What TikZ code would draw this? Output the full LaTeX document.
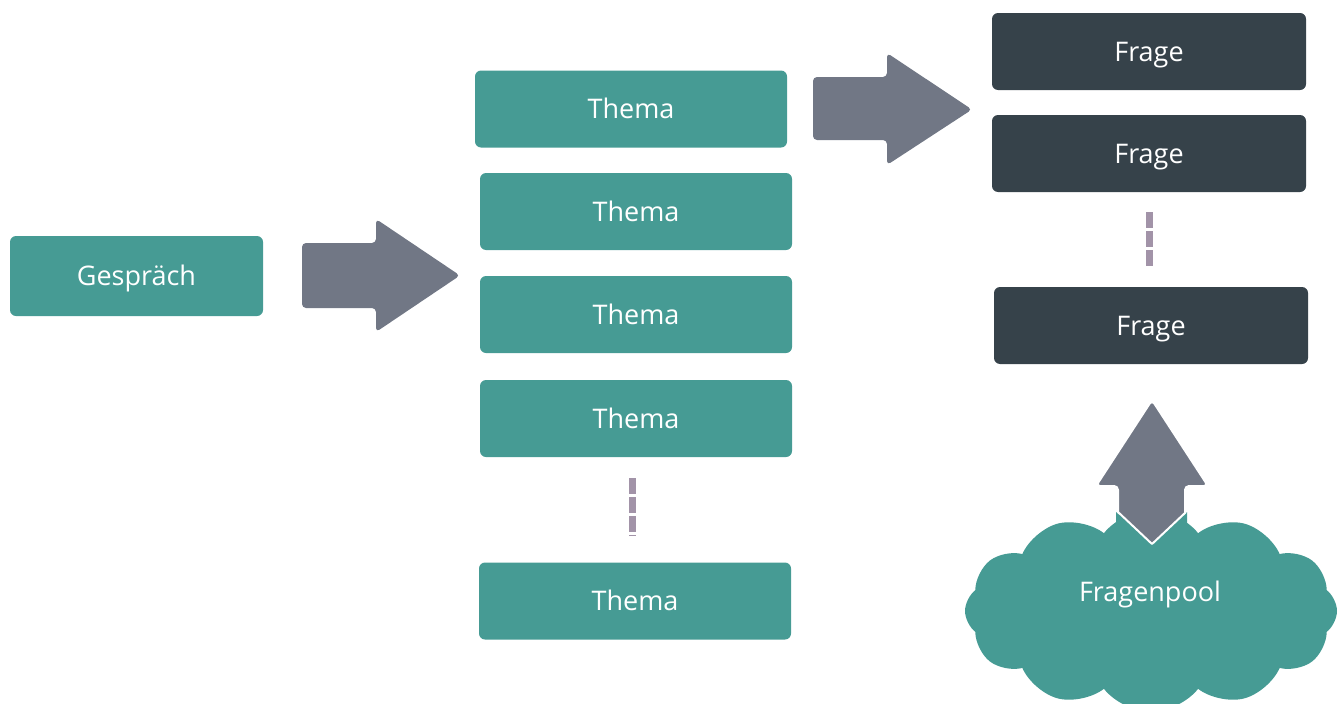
\documentclass[tikz,border=0pt]{standalone}
\usepackage{fontspec}
\setmainfont{Open Sans}
\usetikzlibrary{shapes.symbols}
\definecolor{teal1}{HTML}{469B94}
\definecolor{dark1}{HTML}{36424A}
\definecolor{arrowgray}{HTML}{717785}
\definecolor{dotcol}{HTML}{A293A8}
\tikzset{
  box/.style={rectangle, rounded corners=6pt, fill=#1, text=white, font=\fontsize{27}{30}\selectfont, inner sep=0pt, text height=19pt, text depth=0pt},
  thema/.style={box=teal1, minimum width=312pt, minimum height=77pt},
  frage/.style={box=dark1, minimum width=314pt, minimum height=77pt},
  bigarrow/.style={fill=arrowgray, rounded corners=4pt},
  dots/.style={draw=dotcol, line width=7pt, dash pattern=on 16pt off 3pt},
}
\begin{document}
\begin{tikzpicture}[x=1pt,y=-1pt]
\useasboundingbox (0,0) rectangle (1339,704);
% boxes
\node[box=teal1, minimum width=253pt, minimum height=80pt] (g) at (136.5,276) {Gespräch};
\node[thema] (t1) at (631,109) {Thema};
\node[thema] (t2) at (636,211.5) {Thema};
\node[thema] (t3) at (636,314.5) {Thema};
\node[thema] (t4) at (636,418.5) {Thema};
\node[thema] (t5) at (635,601) {Thema};
\node[frage] (f1) at (1149,51.5) {Frage};
\node[frage] (f2) at (1149,153.5) {Frage};
\node[frage] (f3) at (1151,325.5) {Frage};
% dotted continuation
\coordinate (d1a) at (632.5,478);
\coordinate (d1b) at (632.5,536);
\draw[dots] (d1a) -- (d1b);
\coordinate (d2a) at (1149.5,212);
\coordinate (d2b) at (1149.5,268);
\draw[dots] (d2a) -- (d2b);
% arrow Gespräch -> Themen
\fill[bigarrow] (302,243) -- (376,243) -- (376,219) -- (460,275.5) -- (376,332) -- (376,308) -- (302,308) -- cycle;
% arrow Thema -> Fragen
\fill[bigarrow] (813,77) -- (887,77) -- (887,53) -- (972,109.5) -- (887,165) -- (887,140) -- (813,140) -- cycle;
% cloud
\node[cloud, cloud puffs=12, cloud puff arc=105, aspect=2, fill=teal1, minimum width=372pt, minimum height=202pt, inner sep=0pt] (pool) at (1151,611) {};
\node[text=white, font=\fontsize{27}{30}\selectfont, text height=19pt, text depth=0pt] (pooltxt) at (1150,592) {Fragenpool};
% up arrow
\path[bigarrow, draw=white, line width=2pt] (1118,545) -- (1118,486) -- (1096,486) -- (1152,400) -- (1208,486) -- (1185,486) -- (1185,545) -- cycle;
\fill[teal1] (1116,512) -- (1152,544) -- (1187,512) -- (1187,548) -- (1116,548) -- cycle;
\draw[white, line width=2pt, line join=round] (1118,512) -- (1152,544) -- (1186,512);
\end{tikzpicture}
\end{document}
